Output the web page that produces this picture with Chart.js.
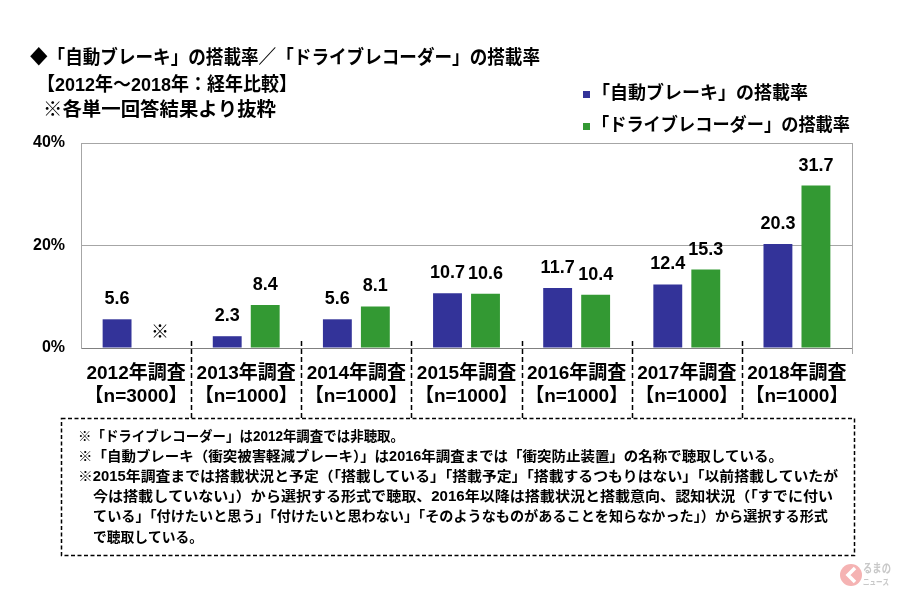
<!DOCTYPE html>
<html>
<head>
<meta charset="utf-8">
<script src="https://cdn.jsdelivr.net/npm/chart.js@4/dist/chart.umd.min.js"></script>
<style>
  html, body { margin: 0; padding: 0; background: #ffffff; }
  #wrap { width: 900px; height: 600px; position: relative; }
</style>
</head>
<body>
<div id="wrap"><canvas id="c" width="900" height="600"></canvas></div>
<script>
// ---- data ----
const surveyYears = ['2012年調査', '2013年調査', '2014年調査', '2015年調査', '2016年調査', '2017年調査', '2018年調査'];
const sampleSizes = ['【n=3000】', '【n=1000】', '【n=1000】', '【n=1000】', '【n=1000】', '【n=1000】', '【n=1000】'];
const seriesNames = ['「自動ブレーキ」の搭載率', '「ドライブレコーダー」の搭載率'];
const autoBrake = [5.6, 2.3, 5.6, 10.7, 11.7, 12.4, 20.3];
const driveRecorder = [null, 8.4, 8.1, 10.6, 10.4, 15.3, 31.7];
const yTickValues = [0, 20, 40];
const titleLines = ['◆「自動ブレーキ」の搭載率／「ドライブレコーダー」の搭載率', '【2012年～2018年：経年比較】', '※各単一回答結果より抜粋'];
const noteLines = [
  '※「ドライブレコーダー」は2012年調査では非聴取。',
  '※「自動ブレーキ（衝突被害軽減ブレーキ）」は2016年調査までは「衝突防止装置」の名称で聴取している。',
  '※2015年調査までは搭載状況と予定（「搭載している」「搭載予定」「搭載するつもりはない」「以前搭載していたが',
  '今は搭載していない」）から選択する形式で聴取、2016年以降は搭載状況と搭載意向、認知状況（「すでに付い',
  'ている」「付けたいと思う」「付けたいと思わない」「そのようなものがあることを知らなかった」）から選択する形式',
  'で聴取している。'
];
const missingMark = '※';

const BLUE = '#333399';
const GREEN = '#339933';
const FONT = '"Liberation Sans", "Noto Sans CJK JP", sans-serif';

function fitText(ctx, text, x, y, w) {
  const m = ctx.measureText(text).width;
  ctx.save();
  ctx.translate(x, y);
  ctx.scale(w / m, 1);
  ctx.textAlign = 'left';
  ctx.fillText(text, 0, 0);
  ctx.restore();
}

const decorPlugin = {
  id: 'decor',
  afterDraw(chart) {
    const ctx = chart.ctx;
    const area = chart.chartArea;
    const ys = chart.scales.y;
    ctx.save();
    // right border of plot
    ctx.strokeStyle = '#a6a6a6';
    ctx.lineWidth = 1;
    ctx.beginPath();
    ctx.moveTo(Math.round(area.right) + 0.5, area.top);
    ctx.lineTo(Math.round(area.right) + 0.5, area.bottom + 6);
    ctx.stroke();

    // dashed category separators
    const n = surveyYears.length;
    const step = (area.right - area.left) / n;
    ctx.strokeStyle = '#000';
    ctx.lineWidth = 1.5;
    ctx.setLineDash([5, 3]);
    for (let i = 1; i < n; i++) {
      const x = Math.round(area.left + i * step) + 0.5;
      ctx.beginPath();
      ctx.moveTo(x, area.bottom - 7);
      ctx.lineTo(x, 418);
      ctx.stroke();
    }
    ctx.setLineDash([]);

    // data labels
    ctx.fillStyle = '#000';
    ctx.textAlign = 'center';
    ctx.textBaseline = 'middle';
    chart.data.datasets.forEach((ds, di) => {
      const meta = chart.getDatasetMeta(di);
      meta.data.forEach((bar, i) => {
        const v = ds.data[i];
        if (v === null || v === undefined) {
          ctx.font = 'bold 18px ' + FONT;
          ctx.fillText(missingMark, bar.x + 5, ys.getPixelForValue(0) - 15);
          return;
        }
        ctx.font = 'bold 18px ' + FONT;
        ctx.fillText(v.toFixed(1), bar.x, bar.y - 20);
      });
    });

    // title
    ctx.textBaseline = 'middle';
    ctx.font = 'bold 19px ' + FONT;
    fitText(ctx, titleLines[0], 30, 59, 510);
    fitText(ctx, titleLines[1], 37, 86, 260);
    fitText(ctx, titleLines[2], 43, 111, 233);

    // legend
    const legendY = [94, 126];
    const legendW = [216, 258];
    const colors = [BLUE, GREEN];
    ctx.font = 'bold 18px ' + FONT;
    for (let i = 0; i < 2; i++) {
      ctx.fillStyle = colors[i];
      ctx.fillRect(583, legendY[i] - 3, 7, 7);
      ctx.fillStyle = '#000';
      fitText(ctx, seriesNames[i], 592, legendY[i], legendW[i]);
    }

    // notes box
    ctx.strokeStyle = '#000';
    ctx.lineWidth = 1.5;
    ctx.setLineDash([4, 2.5]);
    ctx.strokeRect(61.5, 418.5, 793, 137);
    ctx.setLineDash([]);
    const noteX = [78, 78, 78, 93, 93, 93];
    const noteY = [437, 457, 477, 497, 517, 538];
    const noteW = [326, 705, 760, 740, 735, 110];
    ctx.fillStyle = '#000';
    ctx.font = 'bold 14px ' + FONT;
    for (let i = 0; i < noteLines.length; i++) {
      fitText(ctx, noteLines[i], noteX[i], noteY[i], noteW[i]);
    }

    // watermark logo
    ctx.fillStyle = '#f5b3b3';
    ctx.beginPath();
    ctx.arc(851, 575, 11, 0, Math.PI * 2);
    ctx.fill();
    ctx.strokeStyle = '#ffffff';
    ctx.lineWidth = 3.5;
    ctx.beginPath();
    ctx.moveTo(855, 568);
    ctx.lineTo(848, 575);
    ctx.lineTo(855, 582);
    ctx.stroke();
    ctx.fillStyle = '#c8c8c8';
    ctx.font = 'bold 12px ' + FONT;
    fitText(ctx, 'るまの', 863, 570, 28);
    ctx.font = 'bold 8px ' + FONT;
    fitText(ctx, 'ニュース', 863, 583, 26);
    ctx.restore();
  }
};

new Chart(document.getElementById('c'), {
  type: 'bar',
  data: {
    labels: surveyYears.map((y, i) => [y, sampleSizes[i]]),
    datasets: [
      { label: seriesNames[0], data: autoBrake, backgroundColor: BLUE, categoryPercentage: 0.69, barPercentage: 0.76 },
      { label: seriesNames[1], data: driveRecorder, backgroundColor: GREEN, categoryPercentage: 0.69, barPercentage: 0.76 }
    ]
  },
  options: {
    responsive: false,
    devicePixelRatio: 1,
    animation: false,
    layout: { padding: { left: 0, top: 143, right: 48, bottom: 0 } },
    plugins: { legend: { display: false }, tooltip: { enabled: false }, title: { display: false } },
    scales: {
      x: {
        grid: { display: false, drawTicks: false },
        border: { display: true, color: '#808080', width: 1 },
        ticks: {
          color: '#000',
          font: { family: FONT, size: 19, weight: 'bold', lineHeight: 1.22 },
          padding: 14,
          maxRotation: 0,
          autoSkip: false
        },
        afterFit(scale) { scale.height = 252; }
      },
      y: {
        min: 0,
        max: 40,
        afterBuildTicks(scale) { scale.ticks = yTickValues.map(v => ({ value: v })); },
        grid: { color: '#a6a6a6', lineWidth: 1, drawTicks: false },
        border: { display: true, color: '#a6a6a6', width: 1 },
        ticks: {
          color: '#000',
          font: { family: FONT, size: 16, weight: 'bold' },
          padding: 16,
          callback: v => v + '%'
        },
        afterFit(scale) { scale.width = 81; }
      }
    }
  },
  plugins: [decorPlugin]
});
</script>
</body>
</html>
